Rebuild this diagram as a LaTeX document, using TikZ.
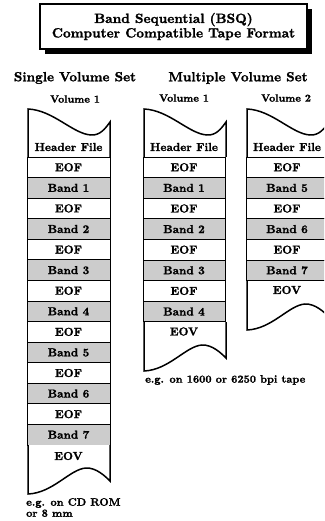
\documentclass[tikz,border=0pt]{standalone}
\usepackage{fontspec}
\usetikzlibrary{shadows}

% heavy bold serif used for every label
\newfontfamily\heavyfont{lmroman10-bold.otf}[FakeBold=1.5]

% font sizes used throughout
\newcommand\cellfont{\fontsize{11.5}{13}\selectfont\heavyfont}
\newcommand\headfont{\fontsize{13.3}{15}\selectfont\heavyfont}
\newcommand\volfont{\fontsize{10.5}{12}\selectfont\heavyfont}
\newcommand\notefont{\fontsize{10.8}{11}\selectfont\heavyfont}

% tape start: wavy top edge over the header cell, left edge #1, right edge #2
\newcommand\tapehead[2]{%
  \draw[tape] (#1,157) -- (#1,109)
    .. controls (#1+25,110) and (#1+45,134) .. (#1+63,135)
    .. controls (#1+72,135.5) and (#2-5,129) .. (#2,122) -- (#2,157);
}
% tape end: wavy bottom edge under the EOV cell, left #1, right #2, top #3
\newcommand\tapetail[3]{%
  \draw[tape] (#1,#3) -- (#1,#3+49)
    .. controls (#1+25,#3+48) and (#1+42,#3+24) .. (#1+58,#3+23)
    .. controls (#1+68,#3+22.5) and (#2-5,#3+31) .. (#2,#3+36) -- (#2,#3);
}

\tikzset{
  cellbox/.style={draw, line width=0.8pt, minimum width=82pt,
    minimum height=20.6pt, inner sep=0pt, font=\cellfont},
  eofcell/.style={cellbox, fill=white},
  bandcell/.style={cellbox, fill=gray!40},
  tape/.style={line width=1.5pt, line join=miter, fill=white},
  celltext/.style={inner sep=0pt, font=\cellfont},
  heading/.style={inner sep=0pt, font=\headfont},
  vollabel/.style={inner sep=0pt, font=\volfont},
  note/.style={inner sep=0pt, font=\notefont, align=left, anchor=west},
  titlebox/.style={draw, line width=1.2pt, fill=white, align=center,
    minimum width=267pt, minimum height=45pt, inner sep=0pt,
    font=\fontsize{13.4}{14.5}\selectfont\heavyfont,
    drop shadow={shadow xshift=5pt, shadow yshift=-5pt, fill=black, opacity=1}},
}

\begin{document}
\begin{tikzpicture}[x=1pt, y=-1pt]
\useasboundingbox (0,0) rectangle (324,521);
\clip (0,0) rectangle (324,521);

% title
\node[titlebox] (title) at (173.5,26.5)
  {Band Sequential (BSQ)\\Computer Compatible Tape Format};

% headings
\node[heading] (hsingle) at (75,78) {Single Volume Set};
\node[heading] (hmulti) at (238,78) {Multiple Volume Set};
\node[vollabel] (vs1) at (75,99) {Volume 1};
\node[vollabel] (vm1) at (184,98) {Volume 1};
\node[vollabel] (vm2) at (286,98) {Volume 2};

% single volume set
\tapehead{28}{110}
\node[celltext] (shead) at (68.5,147) {Header File};
\foreach \i in {1,...,14}{
  \pgfmathtruncatemacro\bn{\i/2}
  \ifodd\i
    \node[eofcell, minimum width=83pt] (s\i) at (68.5,{157+(\i-0.5)*20.57}) {EOF};
  \else
    \node[bandcell, minimum width=83pt] (s\i) at (68.5,{157+(\i-0.5)*20.57}) {Band \bn};
  \fi
}
\tapetail{28}{110}{445}
\node[celltext] (seov) at (68.5,456) {EOV};
\node[note] (snote) at (26,507.5) {e.g. on CD ROM\\or 8 mm};

% multiple volume set, volume 1
\tapehead{144}{226}
\node[celltext] (ahead) at (184,147) {Header File};
\foreach \i in {1,...,8}{
  \pgfmathtruncatemacro\bn{\i/2}
  \ifodd\i
    \node[eofcell] (a\i) at (184,{157+(\i-0.5)*20.6}) {EOF};
  \else
    \node[bandcell] (a\i) at (184,{157+(\i-0.5)*20.6}) {Band \bn};
  \fi
}
\tapetail{144}{226}{322}
\node[celltext] (aeov) at (184,331.5) {EOV};
\node[note] (anote) at (145,380) {e.g. on 1600 or 6250 bpi tape};

% multiple volume set, volume 2
\tapehead{247}{329}
\node[celltext] (bhead) at (287,147) {Header File};
\foreach \i in {1,...,6}{
  \pgfmathtruncatemacro\bn{\i/2+4}
  \ifodd\i
    \node[eofcell] (b\i) at (287,{157+(\i-0.5)*20.6}) {EOF};
  \else
    \node[bandcell] (b\i) at (287,{157+(\i-0.5)*20.6}) {Band \bn};
  \fi
}
\tapetail{247}{329}{281}
\node[celltext] (beov) at (287,290) {EOV};
\end{tikzpicture}
\end{document}
